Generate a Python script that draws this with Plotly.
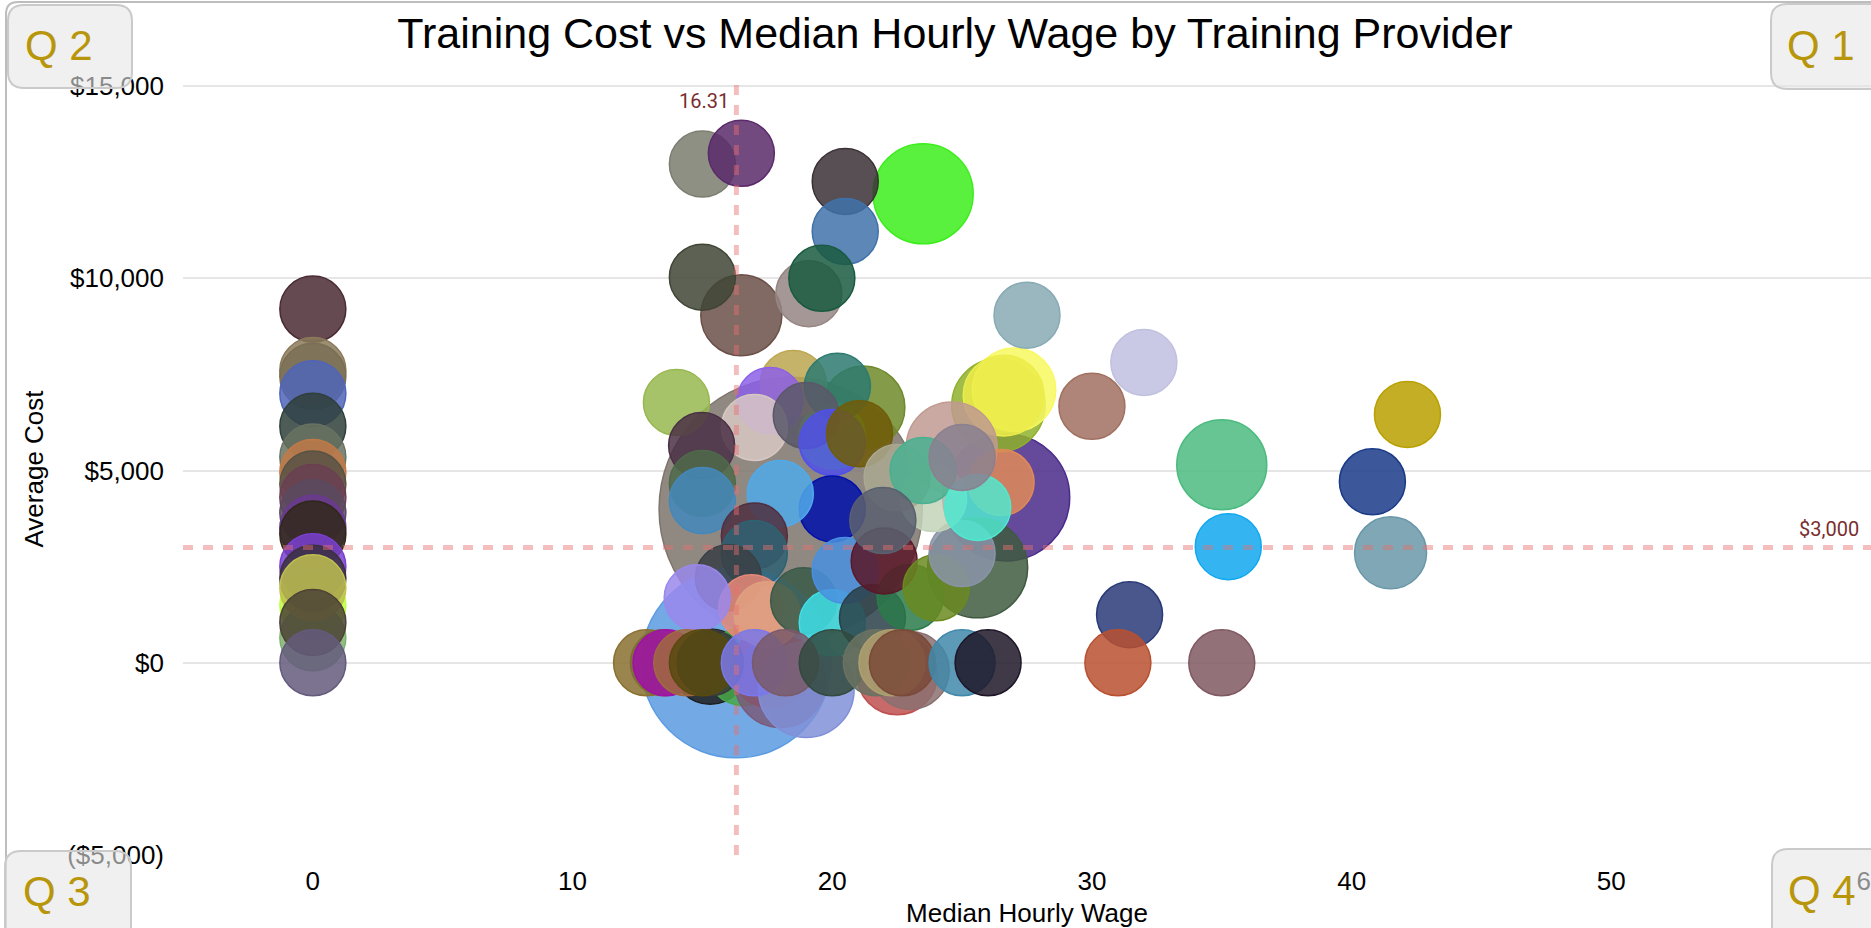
import plotly.graph_objects as go

# ---------------------------------------------------------------------------
# Data: one bubble per training provider
# median hourly wage of completers, average training cost, enrollment
# ---------------------------------------------------------------------------
wage = [
    18.4, 16.3, 26.7,
    15.3, 16.6, 17.6, 18.0, 19.0, 22.5, 23.0,
    0, 0, 0, 0, 0, 0, 0, 0, 0, 0, 0, 0, 0, 0, 0, 0, 0, 0, 0,
    23.5, 35.0, 26.4, 27.0, 26.6, 16.5, 21.2, 24.6, 25.6,
    15.0, 16.5, 20.5, 20.5, 15.0, 19.1, 19.6, 27.5, 32.0, 30.0,
    20.0, 14.0, 18.5, 20.2, 17.6, 17.0, 19.0, 20.0, 21.05, 14.97,
    15.0, 15.0, 20.0, 18.0, 17.0, 17.0, 16.0, 16.9, 17.5, 14.8,
    18.9, 20.0, 20.5, 21.55, 23.0, 22.0, 24.0, 25.0, 23.9, 22.5,
    23.5, 26.5, 25.6, 25.0, 21.95,
    35.25, 31.45, 40.8, 42.15, 41.5,
    12.85, 13.5, 13.6, 14.4, 15.3, 15.0, 17.0, 18.2, 20.0, 21.7,
    22.3, 22.7, 25.0, 26.0, 31.0, 35.0,
]
avg_cost = [
    4000, 0, 4300,
    -100, -100, -150, -500, -700, -300, -200,
    1500, 650, 9200, 7600, 7450, 7000, 6150, 5350, 4950, 4650, 4300,
    3900, 3500, 3350, 2500, 2200, 1950, 1050, 0,
    12200, 5150, 6700, 7100, 6950, 9040, 6640, 5600, 2470,
    12970, 13250, 12520, 11220, 10030, 9600, 10000, 9040, 7810, 6670,
    5900, 6770, 7265, 7190, 6820, 6120, 6430, 5730, 5960, 5650,
    4660, 4220, 4000, 4400, 3300, 2840, 2210, 1430, 1250, 1690,
    1610, 1040, 2400, 1170, 1700, 2650, 1950, 2840, 4270, 4820,
    5000, 4690, 4040, 5340, 3700,
    3020, 1250, 4710, 6460, 2860,
    0, 0, 0, 0, 0, 0, 0, 0, 0, 0,
    0, 0, 0, 0, 0, 0,
]
enrollment = [
    1590, 830, 370,
    130, 140, 140, 190, 210, 150, 140,
    25, 15, 40, 35, 60, 55, 30, 45, 25, 50, 20,
    35, 15, 65, 20, 30, 70, 40, 60,
    230, 186, 200, 160, 150, 151, 158, 190, 230,
    75, 70, 80, 85, 70, 80, 85, 95, 85, 80,
    60, 90, 80, 90, 75, 85, 80, 75, 80, 75,
    80, 85, 70, 80, 75, 80, 75, 70, 60, 80,
    75, 75, 80, 70, 90, 80, 85, 85, 80, 75,
    80, 90, 70, 80, 75,
    85, 85, 85, 85, 119,
    70, 75, 60, 80, 65, 85, 90, 80, 90, 85,
    80, 70, 90, 85, 90, 85,
]

# one colour per provider, in the same order as the data
provider_colors = [
    "#7d746c", "#5b9be2", "#4a2a8a",
    "#1e1e1e", "#48a848", "#c83030", "#7a5a7a", "#8090d8", "#c05050", "#8a7070",
    "#c0ff40", "#80b070",
    "#4a2a33", "#8a7a5a", "#7a6e55", "#4f65b8", "#2f3f3a", "#687262", "#c07a48",
    "#585244", "#6b3f52", "#5a4a60", "#6a3a90", "#30281a", "#7a40d0", "#3a3040",
    "#c0c050", "#4b4235", "#645a7c",
    "#3cee1c", "#4cbb80", "#8fb02a", "#f8f860", "#ecec4a", "#6a5048", "#6f8a2a",
    "#c09a90", "#3f5a40",
    "#7a7d6f", "#5a2a6a", "#3a3035", "#3f72aa", "#3f4535", "#958583", "#1a5a40",
    "#88aab4", "#c0c0e0", "#a07060",
    "#60e040",
    "#98b850", "#bca650", "#2d7a70", "#8c60e8", "#d8c8c4", "#5a5868", "#5050ea",
    "#705c08", "#4a3045",
    "#4f6a4a", "#4488bb", "#0010aa", "#50aaea", "#502f40", "#2f6272", "#3a4045",
    "#e88a78", "#e0a080", "#9a88ec",
    "#3a5a48", "#40e0e8", "#4a90e0", "#2a4048", "#2a7a4a", "#5a1828", "#6a8a20",
    "#8a94a8", "#c4d4b8", "#aaa890",
    "#4ab090", "#e08a58", "#50e8d0", "#8a8090", "#5a6070",
    "#10a8f0", "#2a3a78", "#1a3a88", "#b8a000", "#6a98a8",
    "#8a7030", "#7a7030", "#a010a8", "#a06a40", "#3a3a3a", "#574a10", "#7a78ea",
    "#7a5a6a", "#334a3e", "#6a7262",
    "#b0a070", "#7a4a38", "#3f88aa", "#1e1628", "#b85030", "#805860",
]

# reference lines
median_wage = 16.31
cost_threshold = 3000

x_ticks = [0, 10, 20, 30, 40, 50, 60]
y_ticks = [-5000, 0, 5000, 10000, 15000]


def accounting(v):
    return f"(${abs(v):,})" if v < 0 else f"${v:,}"


def rgba(hex_color, alpha):
    h = hex_color.lstrip("#")
    r, g, b = int(h[0:2], 16), int(h[2:4], 16), int(h[4:6], 16)
    return f"rgba({r},{g},{b},{alpha})"


# ---------------------------------------------------------------------------
# Figure geometry (pixels)
# ---------------------------------------------------------------------------
W, H = 1871, 928
PL, PR, PT, PB = 183, 0, 83, 73
plot_w = W - PL - PR
plot_h = H - PT - PB


def px(xp):
    return (xp - PL) / plot_w


def py(yp):
    return (H - PB - yp) / plot_h


fig = go.Figure()

fig.add_trace(go.Scatter(
    x=wage,
    y=avg_cost,
    mode="markers",
    marker=dict(
        size=enrollment,
        sizemode="area",
        sizeref=0.0459,
        sizemin=33,
        opacity=1,
        color=[rgba(c, 0.85) for c in provider_colors],
        line=dict(color=provider_colors, width=1.5),
    ),
    hovertemplate="Wage: %{x}<br>Cost: %{y:$,.0f}<extra></extra>",
    showlegend=False,
))

shapes = []

# dashed reference lines
ref_line = dict(color="rgba(232,110,110,0.45)", width=5, dash="10px,10px")
shapes.append(dict(type="line", xref="x", yref="paper", x0=median_wage, x1=median_wage,
                   y0=0, y1=1, line=ref_line, layer="above"))
shapes.append(dict(type="line", xref="paper", yref="y", x0=0, x1=1,
                   y0=cost_threshold, y1=cost_threshold, line=ref_line, layer="above"))


def rounded_rect(x0, y0, x1, y1, r):
    """Rounded rectangle path, pixel corners converted to paper units."""
    rx, ry = r / plot_w, r / plot_h
    a, b = px(x0), px(x1)
    t, u = py(y0), py(y1)  # t = top, u = bottom (paper y grows upward)
    return (
        f"M {a + rx},{t} L {b - rx},{t} Q {b},{t} {b},{t - ry} "
        f"L {b},{u + ry} Q {b},{u} {b - rx},{u} "
        f"L {a + rx},{u} Q {a},{u} {a},{u + ry} "
        f"L {a},{t - ry} Q {a},{t} {a + rx},{t} Z"
    )


# outer frame
shapes.append(dict(type="path", xref="paper", yref="paper",
                   path=rounded_rect(6, 2, 1890, 945, 12),
                   line=dict(color="#bdbdbd", width=2), fillcolor="rgba(0,0,0,0)",
                   layer="above"))

# quadrant boxes
quad_boxes = [(8, 5, 132, 88), (1771, 4, 1900, 89), (5, 851, 131, 960), (1772, 849, 1900, 960)]
for (x0, y0, x1, y1) in quad_boxes:
    shapes.append(dict(type="path", xref="paper", yref="paper",
                       path=rounded_rect(x0, y0, x1, y1, 16),
                       line=dict(color="#cacaca", width=2),
                       fillcolor="rgba(230,230,230,0.6)", layer="above"))

annotations = []
quad_labels = [("Q 2", 59, 45), ("Q 1", 1821, 45), ("Q 3", 57, 891), ("Q 4", 1822, 890)]
for text, cx, cy in quad_labels:
    annotations.append(dict(text=text, xref="paper", yref="paper", x=px(cx), y=py(cy),
                            xanchor="center", yanchor="middle", showarrow=False,
                            font=dict(family="Arial, Liberation Sans", size=42, color="#b8960c")))

label_font = dict(family="Roboto, Arial", size=20, color="#7a2e2e")
annotations.append(dict(text=f"{median_wage:.2f}", xref="x", yref="paper",
                        x=median_wage, y=py(101), xanchor="right", yanchor="middle",
                        xshift=-5, showarrow=False, font=label_font))
annotations.append(dict(text=accounting(cost_threshold), xref="paper", yref="y",
                        x=px(1861), y=cost_threshold, xanchor="right", yanchor="bottom",
                        yshift=4, showarrow=False, font=label_font))

fig.update_layout(
    width=W,
    height=H,
    margin=dict(l=PL, r=PR, t=PT, b=PB, autoexpand=False),
    paper_bgcolor="white",
    plot_bgcolor="white",
    font=dict(family="Arial, Liberation Sans", color="black"),
    title=dict(text="Training Cost vs Median Hourly Wage by Training Provider",
               xref="container", x=955 / W, xanchor="center",
               yref="container", y=1 - 33 / H, yanchor="middle",
               font=dict(size=43, color="black")),
    xaxis=dict(range=[-5, 60], tickvals=x_ticks, ticktext=[str(v) for v in x_ticks],
               showgrid=False, zeroline=False, showline=False,
               tickfont=dict(size=26), ticklabelstandoff=8, ticklabeloverflow="allow",
               title=dict(text="Median Hourly Wage", font=dict(size=26), standoff=8)),
    yaxis=dict(range=[-5000, 15080], tickvals=y_ticks,
               ticktext=[accounting(v) for v in y_ticks],
               showgrid=True, gridcolor="#e6e6e6", gridwidth=2,
               zeroline=False, showline=False,
               tickfont=dict(size=26), ticklabelstandoff=18,
               title=dict(text="Average Cost", font=dict(size=26), standoff=16)),
    shapes=shapes,
    annotations=annotations,
)

fig.write_html("out.html")
